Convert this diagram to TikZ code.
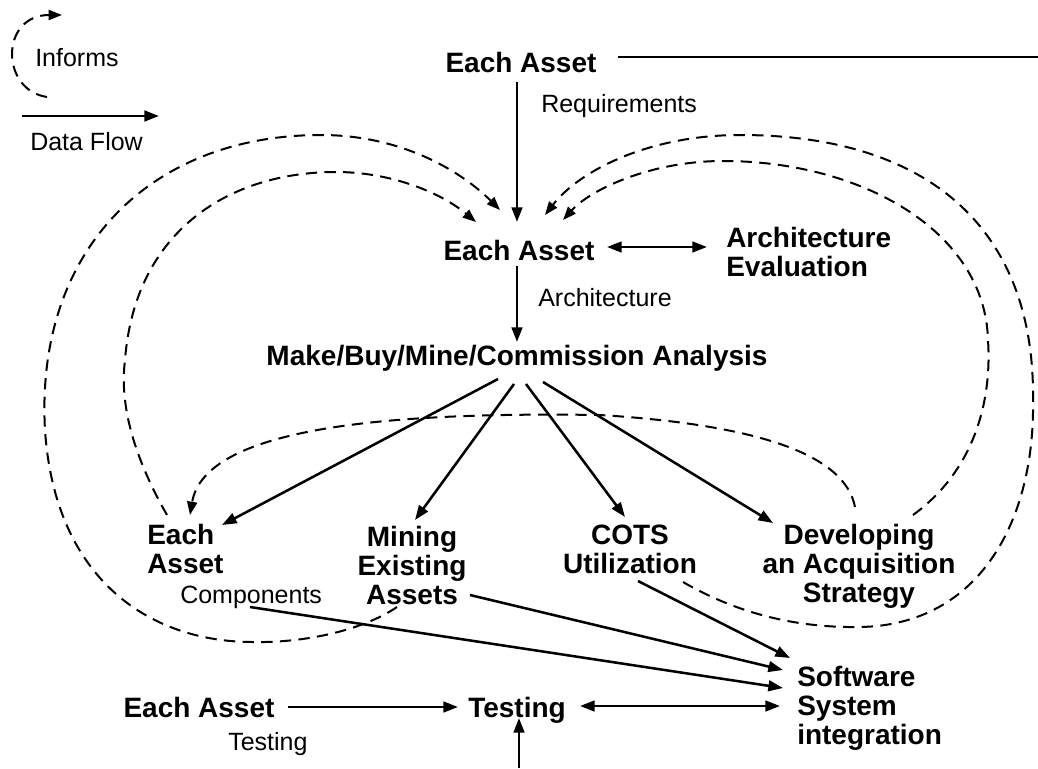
\documentclass[tikz,border=0pt]{standalone}
\usepackage{fontspec}
\setmainfont{Liberation Sans}
\usetikzlibrary{arrows.meta}
\tikzset{
  bnode/.style={font=\fontsize{21}{21.4}\selectfont\bfseries, inner sep=0pt, anchor=base},
  lnode/.style={font=\fontsize{18.75}{20}\selectfont, inner sep=0pt, anchor=base west},
  flow/.style={line width=1.9pt, -{Triangle[length=11pt,width=8pt]}},
  flowboth/.style={line width=1.9pt, {Triangle[length=11pt,width=8pt]}-{Triangle[length=11pt,width=8pt]}},
  plain/.style={line width=1.9pt},
  inform/.style={line width=1.5pt, dash pattern=on 8.5pt off 5.5pt, -{Triangle[length=10pt,width=7.5pt]}},
}
\begin{document}
\begin{tikzpicture}[x=0.75pt,y=-0.75pt]
\useasboundingbox (0,0) rectangle (1038,768);

% ---------- legend ----------
\node[lnode] (legInf) at (35,66) {Informs};
\node[lnode] (legDF) at (30,150) {Data Flow};
\coordinate (li1) at (47,97);
\coordinate (li2) at (62,15);
\draw[inform] (li1) .. controls (0,90) and (0,15) .. (li2);
\coordinate (ld1) at (22,116);
\coordinate (ld2) at (159,116);
\draw[flow] (ld1) -- (ld2);

% ---------- nodes (base = last line's baseline) ----------
\node[bnode] (n1) at (521,72) {Each Asset};
\node[bnode] (n2) at (519,260) {Each Asset};
\node[bnode, anchor=base west, align=left] (n3) at (726,276) {Architecture\\Evaluation};
\node[bnode] (n4) at (517,365) {Make/Buy/Mine/Commission Analysis};
\node[bnode, anchor=base west, align=left] (n5) at (147,573) {Each\\Asset};
\node[bnode, align=center] (n6) at (412,604) {Mining\\Existing\\Assets};
\node[bnode, align=center] (n7) at (630,573) {COTS\\Utilization};
\node[bnode, align=center] (n8) at (859,602) {Developing\\an Acquisition\\Strategy};
\node[bnode, anchor=base west, align=left] (n9) at (797,744) {Software\\System\\integration};
\node[bnode] (n10) at (199,717) {Each Asset};
\node[bnode] (n11) at (517,717) {Testing};

\node[lnode] (lReq) at (541,112) {Requirements};
\node[lnode] (lArch) at (538,306) {Architecture};
\node[lnode] (lComp) at (180,603) {Components};
\node[lnode] (lTest) at (228,750) {Testing};

% ---------- ports ----------
\coordinate (top1) at (618,57);
\coordinate (top2) at (1038,57);
\coordinate (a1s) at (517,82);   \coordinate (a1e) at (517,222);
\coordinate (a2s) at (517,266);  \coordinate (a2e) at (517,342);
\coordinate (a3s) at (607,247);  \coordinate (a3e) at (707,247);
\coordinate (b1s) at (498,379);  \coordinate (b1e) at (222,525);
\coordinate (b2s) at (514,384);  \coordinate (b2e) at (415,520);
\coordinate (b3s) at (526,384);  \coordinate (b3e) at (625,517);
\coordinate (b4s) at (543,382);  \coordinate (b4e) at (773,523);
\coordinate (c1s) at (250,607);  \coordinate (c1e) at (783,688);
\coordinate (c2s) at (470,595);  \coordinate (c2e) at (783,670);
\coordinate (c3s) at (638,581);  \coordinate (c3e) at (790,658);
\coordinate (d1s) at (288,707);  \coordinate (d1e) at (458,707);
\coordinate (d2s) at (580,706);  \coordinate (d2e) at (780,706);
\coordinate (d3s) at (519,768);  \coordinate (d3e) at (519,718);

% ---------- data flow ----------
\draw[plain] (top1) -- (top2);
\draw[flow] (a1s) -- (a1e);
\draw[flow] (a2s) -- (a2e);
\draw[flowboth] (a3s) -- (a3e);
\draw[flow] (b1s) -- (b1e);
\draw[flow] (b2s) -- (b2e);
\draw[flow] (b3s) -- (b3e);
\draw[flow] (b4s) -- (b4e);
\draw[flow] (c1s) -- (c1e);
\draw[flow] (c2s) -- (c2e);
\draw[flow] (c3s) -- (c3e);
\draw[flow] (d1s) -- (d1e);
\draw[flowboth] (d2s) -- (d2e);
\draw[flow] (d3s) -- (d3e);

% ---------- informs ----------
\coordinate (e1s) at (397,607); \coordinate (e1e) at (500,210);
\draw[inform] (e1s) .. controls (360,632) and (300,643) .. (253,642)
  .. controls (150,642) and (55,580) .. (45,430)
  .. controls (35,250) and (150,135) .. (321,135)
  .. controls (400,135) and (460,170) .. (e1e);

\coordinate (e2s) at (167,515); \coordinate (e2e) at (476,222);
\draw[inform] (e2s) .. controls (130,450) and (120,400) .. (125,360)
  .. controls (135,230) and (230,172) .. (336,172)
  .. controls (390,172) and (440,192) .. (e2e);

\coordinate (e3s) at (855,507); \coordinate (e3e) at (190,515);
\draw[inform] (e3s) .. controls (845,455) and (760,425) .. (600,415)
  .. controls (400,412) and (205,425) .. (e3e);

\coordinate (e4s) at (683,582); \coordinate (e4e) at (545,215);
\draw[inform] (e4s) .. controls (740,615) and (800,628) .. (860,627)
  .. controls (980,625) and (1035,520) .. (1033,400)
  .. controls (1035,230) and (930,135) .. (740,135)
  .. controls (650,135) and (580,170) .. (e4e);

\coordinate (e5s) at (913,515); \coordinate (e5e) at (563,220);
\draw[inform] (e5s) .. controls (975,470) and (992,400) .. (988,340)
  .. controls (985,230) and (860,161) .. (723,161)
  .. controls (650,161) and (590,190) .. (e5e);
\end{tikzpicture}
\end{document}
